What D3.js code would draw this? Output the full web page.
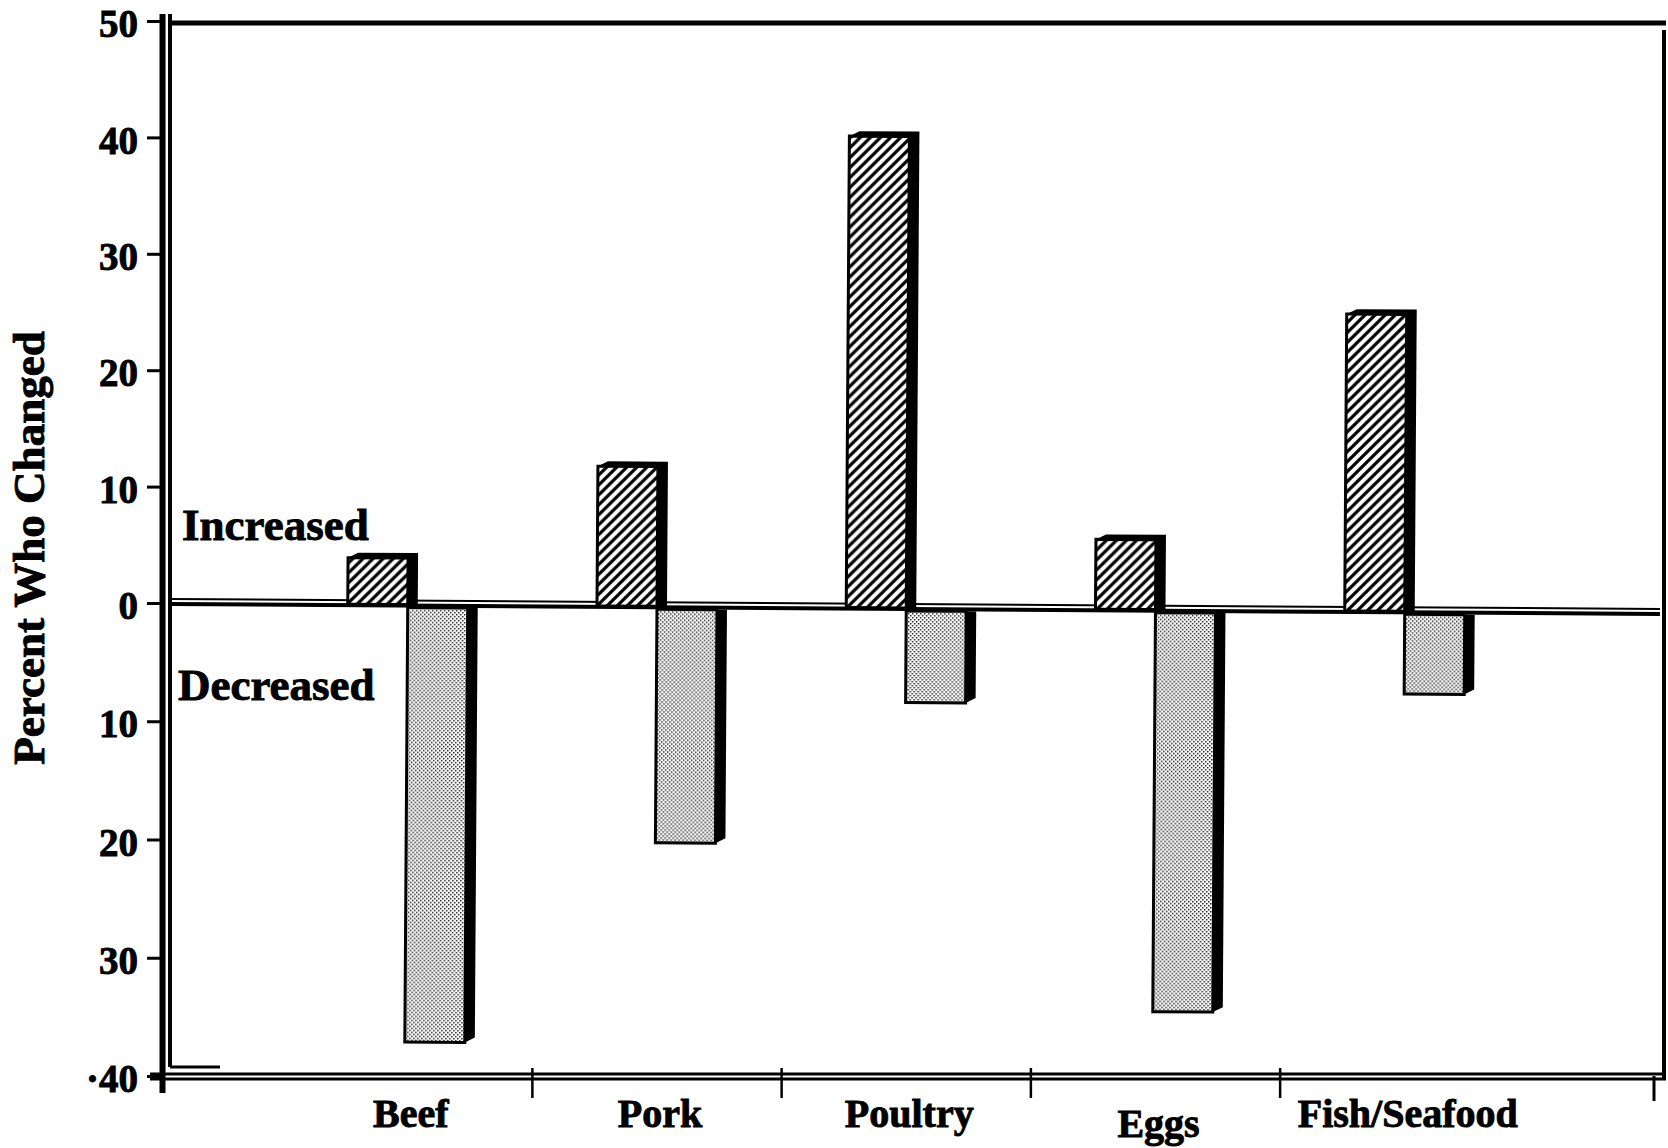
<!DOCTYPE html>
<html>
<head>
<meta charset="utf-8">
<script src="https://cdn.jsdelivr.net/npm/d3@7"></script>
<style>
  html, body { margin: 0; padding: 0; background: #fff; }
  svg { display: block; }
  text { font-family: "Liberation Serif", "Times New Roman", serif; font-weight: bold; fill: #000; stroke: #000; stroke-width: 0.9px; }
</style>
</head>
<body>
<svg id="chart" width="1668" height="1148"></svg>
<script>
// Share of respondents who changed how much of each food they eat
const categories = ["Beef", "Pork", "Poultry", "Eggs", "Fish/Seafood"];
const increased = [4, 12, 40.5, 6, 25.5];
const decreased = [37, 20, 8, 34, 7];
const yTickValues = [50, 40, 30, 20, 10, 0, -10, -20, -30, -40];
const yTickLabels = ["50", "40", "30", "20", "10", "0", "10", "20", "30", "·40"];
const seriesLabels = ["Increased", "Decreased"];
const axisTitle = "Percent Who Changed";

const svg = d3.select("#chart");

// frame geometry
const frameLeft = 161, frameRight = 1664, frameTop = 23, frameBottom = 1076;

// categories sit on whole-number slots, separators on half slots
const x = d3.scaleLinear().domain([0, 6]).range([158.5, 1654]);
const y = d3.scaleLinear().domain([-40, 0, 50]).range([frameBottom, 603, 21]);
const barW = 60;
const depthX = 10, depthY = -5;

// fill patterns
const defs = svg.append("defs");
const hatch = defs.append("pattern")
  .attr("id", "hatch").attr("patternUnits", "userSpaceOnUse")
  .attr("width", 10).attr("height", 10);
hatch.append("rect").attr("width", 10).attr("height", 10).attr("fill", "#fff");
hatch.append("path")
  .attr("d", "M-2.5,2.5 L2.5,-2.5 M0,10 L10,0 M7.5,12.5 L12.5,7.5")
  .attr("stroke", "#000").attr("stroke-width", 3.2);

const dots = defs.append("pattern")
  .attr("id", "dots").attr("patternUnits", "userSpaceOnUse")
  .attr("width", 4).attr("height", 4);
dots.append("rect").attr("width", 4).attr("height", 4).attr("fill", "#fff");
dots.append("rect").attr("x", 0).attr("y", 0).attr("width", 1.5).attr("height", 1.5).attr("fill", "#222");
dots.append("rect").attr("x", 2).attr("y", 2).attr("width", 1.5).attr("height", 1.5).attr("fill", "#222");

// outer frame: double left rule, top and right rules, double bottom rule
const frame = svg.append("g").attr("stroke", "#000").attr("fill", "none");
frame.append("line").attr("x1", frameLeft + 1.5).attr("x2", frameLeft + 1.5).attr("y1", 14).attr("y2", 1093).attr("stroke-width", 6);
frame.append("line").attr("x1", frameLeft + 9).attr("x2", frameLeft + 9).attr("y1", 14).attr("y2", 1067).attr("stroke-width", 4);
frame.append("line").attr("x1", frameLeft + 9).attr("x2", 220).attr("y1", 1067).attr("y2", 1067).attr("stroke-width", 3);
frame.append("line").attr("x1", frameLeft + 7).attr("x2", frameRight + 2).attr("y1", frameTop).attr("y2", frameTop).attr("stroke-width", 5);
frame.append("line").attr("x1", frameRight).attr("x2", frameRight).attr("y1", 30).attr("y2", frameBottom + 2).attr("stroke-width", 4);
frame.append("line").attr("x1", 150).attr("x2", frameRight + 2).attr("y1", frameBottom - 2).attr("y2", frameBottom - 2).attr("stroke-width", 3);
frame.append("line").attr("x1", 150).attr("x2", frameRight + 2).attr("y1", frameBottom + 3).attr("y2", frameBottom + 3).attr("stroke-width", 3);

// y axis ticks and labels
const yAxis = svg.append("g")
  .attr("transform", `translate(${frameLeft},0)`)
  .call(d3.axisLeft(y)
    .tickValues(yTickValues)
    .tickFormat((d, i) => yTickLabels[i])
    .tickSize(14)
    .tickPadding(9));
yAxis.select(".domain").remove();
yAxis.selectAll(".tick line").attr("stroke", "#000").attr("stroke-width", 3);
yAxis.selectAll(".tick text")
  .attr("font-size", 39)
  .attr("font-family", "Liberation Serif, Times New Roman, serif")
  .attr("font-weight", "bold")
  .attr("dy", "0.4em");

// category separators along the bottom rule
const sepValues = [1.5, 2.5, 3.5, 4.5];
svg.append("g").selectAll("line").data(sepValues).join("line")
  .attr("x1", d => x(d)).attr("x2", d => x(d))
  .attr("y1", 1068).attr("y2", 1098)
  .attr("stroke", "#000").attr("stroke-width", 2.5);
svg.append("line")
  .attr("x1", x(6)).attr("x2", x(6))
  .attr("y1", frameBottom).attr("y2", 1101)
  .attr("stroke", "#000").attr("stroke-width", 3);

// category labels
svg.append("g").selectAll("text").data(categories).join("text")
  .attr("x", (d, i) => x(i + 1) + 3)
  .attr("y", (d, i) => d === "Eggs" ? 1137 : 1127)
  .attr("text-anchor", "middle")
  .attr("font-size", 40)
  .text(d => d);

// axis title
svg.append("text")
  .attr("transform", "translate(44,548) rotate(-90)")
  .attr("text-anchor", "middle")
  .attr("font-size", 45)
  .text(axisTitle);

// series labels either side of the baseline
svg.append("text").attr("x", 182).attr("y", y(0) - 63).attr("font-size", 45).text(seriesLabels[0]);
svg.append("text").attr("x", 178).attr("y", y(0) + 97).attr("font-size", 45).text(seriesLabels[1]);

// plot body: baseline and bars, with the baseline running slightly downhill
const body = svg.append("g").attr("transform", `rotate(0.385, ${frameLeft + 9}, ${y(0)})`);
const y0 = y(0);

body.append("line").attr("x1", frameLeft + 9).attr("x2", frameRight - 4)
  .attr("y1", y0 - 4).attr("y2", y0 - 4).attr("stroke", "#000").attr("stroke-width", 2);
body.append("line").attr("x1", frameLeft + 9).attr("x2", frameRight - 4)
  .attr("y1", y0 + 1).attr("y2", y0 + 1).attr("stroke", "#000").attr("stroke-width", 4);

const bars = categories.map((c, i) => ({ c, i, inc: increased[i], dec: decreased[i] }));

// increased bars (above the baseline)
const incG = body.append("g").selectAll("g").data(bars).join("g");
incG.append("path")
  .attr("fill", "#000")
  .attr("d", d => {
    const x0 = x(d.i + 1) - barW, x1 = x(d.i + 1), yt = y(d.inc);
    return `M${x0},${yt} L${x0 + depthX},${yt + depthY} L${x1 + depthX},${yt + depthY} L${x1 + depthX},${y0} L${x1},${y0} Z`;
  });
incG.append("rect")
  .attr("x", d => x(d.i + 1) - barW)
  .attr("y", d => y(d.inc))
  .attr("width", barW)
  .attr("height", d => y0 - y(d.inc))
  .attr("fill", "url(#hatch)")
  .attr("stroke", "#000").attr("stroke-width", 3);

// decreased bars (below the baseline)
const decG = body.append("g").selectAll("g").data(bars).join("g");
decG.append("path")
  .attr("fill", "#000")
  .attr("d", d => {
    const x1 = x(d.i + 1) + barW, yb = y(-d.dec);
    return `M${x1},${y0 + 3} L${x1 + depthX},${y0 + 3} L${x1 + depthX},${yb + depthY} L${x1},${yb} Z`;
  });
decG.append("rect")
  .attr("x", d => x(d.i + 1))
  .attr("y", y0 + 3)
  .attr("width", barW)
  .attr("height", d => y(-d.dec) - y0 - 3)
  .attr("fill", "url(#dots)")
  .attr("stroke", "#000").attr("stroke-width", 3);
</script>
</body>
</html>
